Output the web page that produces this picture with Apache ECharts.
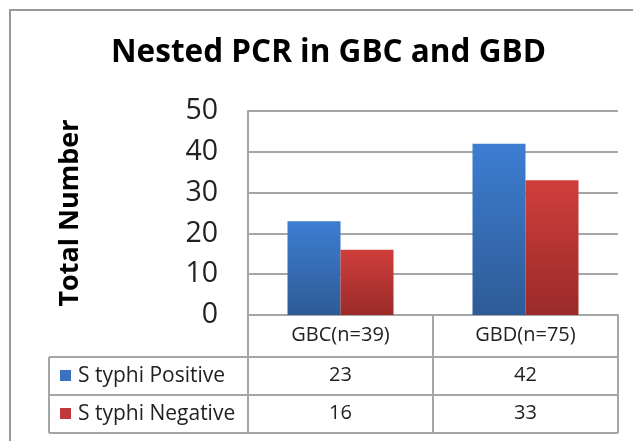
<!DOCTYPE html>
<html><head><meta charset="utf-8">
<script src="https://cdn.jsdelivr.net/npm/echarts@6/dist/echarts.min.js"></script>
<style>html,body{margin:0;padding:0;background:#fff}#c{width:633px;height:441px}</style>
</head><body><div id="c"></div>
<script>
const categories = ['GBC(n=39)', 'GBD(n=75)'];
const seriesNames = ['S typhi Positive', 'S typhi Negative'];
const positive = [23, 42];
const negative = [16, 33];
const yTicks = [0, 10, 20, 30, 40, 50];

const FONT = 'Open Sans';
const chart = echarts.init(document.getElementById('c'), null, {renderer: 'canvas'});
const blueGrad = new echarts.graphic.LinearGradient(0, 0, 0, 1, [{offset: 0, color: '#3d7dd1'}, {offset: 1, color: '#2e5b96'}]);
const redGrad = new echarts.graphic.LinearGradient(0, 0, 0, 1, [{offset: 0, color: '#cf3e3b'}, {offset: 1, color: '#9a2b2a'}]);
const gridLine = '#a6a6a6';
const L = 248, R = 618, T = 111, B = 315;
const rowY = [357, 395, 433];
const tableLeft = 49;
const colMid = 433;

function line(x1, y1, x2, y2) {
  return {type: 'line', shape: {x1, y1, x2, y2}, style: {stroke: gridLine, lineWidth: 2}, silent: true};
}

const tableXAxis = (data, offset) => ({
  type: 'category', data: data.map(String), position: 'bottom', offset: offset, gridIndex: 0,
  axisLine: {show: false}, axisTick: {show: false},
  axisLabel: {fontFamily: FONT, fontSize: 20, color: '#222', margin: 10}
});

chart.setOption({
  animation: false,
  title: {
    text: 'Nested PCR in GBC and GBD', left: 106, top: 32,
    textStyle: {fontFamily: FONT, fontWeight: 'bold', fontSize: 31.5, color: '#000'}
  },
  grid: {left: L, right: 633 - R, top: T, bottom: 441 - B},
  xAxis: [
    {type: 'category', data: categories, position: 'bottom',
     axisLine: {show: true, lineStyle: {color: gridLine, width: 2}}, axisTick: {show: false},
     axisLabel: {fontFamily: FONT, fontSize: 20, color: '#222', margin: 10}},
    tableXAxis(positive, 40),
    tableXAxis(negative, 78)
  ],
  yAxis: {
    type: 'value', min: yTicks[0], max: yTicks[yTicks.length - 1], interval: 10,
    name: 'Total Number', nameLocation: 'middle', nameRotate: 90, nameGap: 164,
    nameTextStyle: {fontFamily: FONT, fontWeight: 'bold', fontSize: 27, color: '#000'},
    axisLine: {show: true, lineStyle: {color: gridLine, width: 2}}, axisTick: {show: false},
    axisLabel: {fontFamily: FONT, fontSize: 28.5, color: '#222', margin: 30},
    splitLine: {lineStyle: {color: gridLine, width: 2}}
  },
  series: [
    {name: seriesNames[0], type: 'bar', data: positive, barWidth: 53, barGap: '0%', itemStyle: {color: blueGrad}},
    {name: seriesNames[1], type: 'bar', data: negative, barWidth: 53, barGap: '0%', itemStyle: {color: redGrad}}
  ],
  graphic: [
    {type: 'rect', shape: {x: 10, y: 10, width: 700, height: 500}, style: {fill: 'none', stroke: '#999', lineWidth: 2}, silent: true},
    line(L, B, L, rowY[2]),
    line(colMid, B, colMid, rowY[2]),
    line(R, B, R, rowY[2]),
    line(tableLeft, rowY[0], R, rowY[0]),
    line(tableLeft, rowY[1], R, rowY[1]),
    line(tableLeft, rowY[2], R, rowY[2]),
    line(tableLeft, rowY[0], tableLeft, rowY[2]),
    {type: 'rect', shape: {x: 60, y: 370, width: 11, height: 11}, style: {fill: '#3a71c1'}},
    {type: 'text', style: {x: 78, y: 376, text: seriesNames[0], fontFamily: FONT, fontSize: 21, fill: '#222', verticalAlign: 'middle'}},
    {type: 'rect', shape: {x: 60, y: 408, width: 11, height: 11}, style: {fill: '#c0383a'}},
    {type: 'text', style: {x: 78, y: 414, text: seriesNames[1], fontFamily: FONT, fontSize: 21, fill: '#222', verticalAlign: 'middle'}}
  ]
});
</script></body></html>
